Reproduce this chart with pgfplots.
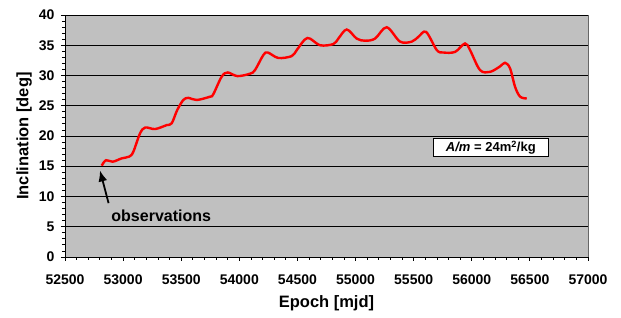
\documentclass[border=0pt]{standalone}
\usepackage{pgfplots}
\pgfplotsset{compat=1.18}
\usepackage{fontspec}
\setmainfont{Liberation Sans}
\usetikzlibrary{arrows.meta}
\definecolor{plotbg}{RGB}{192,192,192}
\pgfplotstableread{
x y
52816 15.1
52853 16.0
52910 15.75
52988 16.3
53053 16.6
53088 17.4
53145 20.4
53190 21.4
53275 21.15
53375 21.8
53418 22.1
53466 24.3
53518 25.95
53561 26.3
53633 25.95
53748 26.5
53776 26.9
53848 29.8
53900 30.5
53983 29.9
54092 30.3
54135 30.9
54207 33.4
54245 33.8
54335 32.9
54450 33.2
54494 34.2
54585 36.2
54694 35.0
54809 35.2
54852 36.1
54924 37.6
55010 36.1
55082 35.75
55168 36.1
55268 37.97
55383 35.6
55484 35.6
55541 36.4
55607 37.2
55699 34.2
55756 33.8
55856 33.9
55942 35.3
55985 34.2
56071 30.9
56157 30.6
56243 31.5
56286 32.1
56329 31.2
56373 28.1
56416 26.5
56473 26.2
}\inclination
\begin{document}
\begin{tikzpicture}
\path[use as bounding box] (-65pt,-61pt) rectangle (556pt,257pt);
\begin{axis}[
  at={(0,0)}, anchor=south west,
  scale only axis, width=523pt, height=242pt,
  xmin=52500, xmax=57000, ymin=0, ymax=40,
  xtick={52500,53000,...,57000},
  ytick={0,5,...,40},
  minor x tick num=4, minor y tick num=4,
  tick align=outside,
  major tick length=4pt, minor tick length=3pt,
  tick style={black, line width=0.8pt},
  axis x line*=bottom, axis y line*=left,
  axis line style={black, line width=0.9pt},
  axis background/.style={fill=plotbg, draw=gray!80!black, line width=0.8pt},
  ymajorgrids, major grid style={black, line width=0.7pt},
  scaled x ticks=false,
  xticklabel style={/pgf/number format/1000 sep={}, yshift=-10pt},
  yticklabel style={xshift=-3pt},
  /pgf/number format/assume math mode=true,
  tick label style={font=\fontsize{14}{16}\selectfont\bfseries},
  xlabel={Epoch [mjd]}, ylabel={Inclination [deg]},
  label style={font=\fontsize{16.5}{18}\selectfont\bfseries},
  xlabel style={at={(axis description cs:0.5,-0.2107)}, anchor=base},
  ylabel style={at={(axis description cs:-0.0698,0.5)}, anchor=base},
  clip=false,
]
\addplot[red, line width=2.4pt, smooth, tension=0.55] table[x=x,y=y] {\inclination};
\draw[-{Latex[length=11pt,width=9pt]}, line width=1.8pt] (axis cs:52875,8.9) -- (axis cs:52801,14.3);
\node[font=\fontsize{16}{18}\selectfont\bfseries] at (axis cs:53328,6.86) {observations};
\node[draw=black, fill=white, line width=1pt, minimum width=115pt, minimum height=18pt, inner sep=0pt,
  font=\fontsize{13}{15}\selectfont\bfseries] at (axis cs:56164,18.1) {\textit{A/m} = 24m\textsuperscript{2}/kg};
\end{axis}
\end{tikzpicture}
\end{document}
